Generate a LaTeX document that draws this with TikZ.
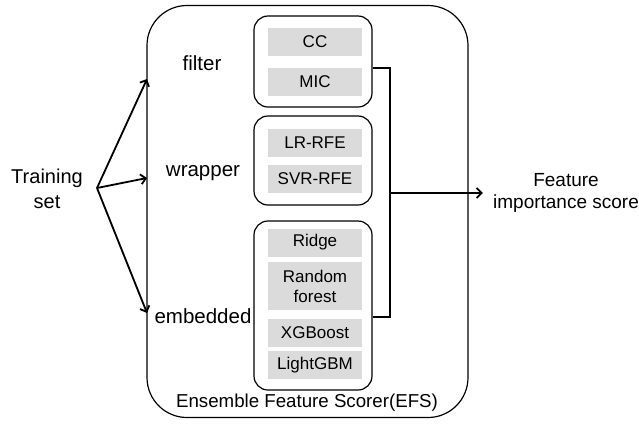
\documentclass[tikz,border=0pt]{standalone}
\usepackage{fontspec}
\setmainfont{Liberation Sans}
\usetikzlibrary{arrows.meta}
\begin{document}
\begin{tikzpicture}[x=1pt,y=-1pt,
  >={Straight Barb[length=5pt,width=10pt,line width=1.8pt]},
  outerbox/.style={draw,line width=1.2pt,rounded corners=40pt,minimum width=321pt,minimum height=412pt,inner sep=0pt},
  groupbox/.style={draw,line width=1.2pt,rounded corners=14pt,minimum width=118pt,inner sep=0pt},
  item/.style={fill=black!14,minimum width=94pt,minimum height=28pt,inner sep=0pt,font=\fontsize{17}{20}\selectfont,align=center},
  biglabel/.style={font=\fontsize{20.5}{24}\selectfont,inner sep=0pt,align=center},
  medlabel/.style={font=\fontsize{19}{22}\selectfont,inner sep=0pt,align=center},
  conn/.style={line width=1.2pt},
  arr/.style={->,line width=1.8pt}]
\useasboundingbox (0,0) rectangle (639,424);
% outer box
\node[outerbox] (efs) at (307.5,211.5) {};
\node[font=\fontsize{18.7}{22}\selectfont,inner sep=0pt] (efslabel) at (307,403) {Ensemble Feature Scorer(EFS)};
% group boxes
\node[groupbox,minimum height=91pt] (gf) at (313,61.5) {};
\node[groupbox,minimum height=89pt] (gw) at (313,160.5) {};
\node[groupbox,minimum height=169pt] (ge) at (313,305.5) {};
% items
\node[item] (cc) at (315,42) {CC};
\node[item] (mic) at (315,82) {MIC};
\node[item] (lr) at (315,143) {LR-RFE};
\node[item] (svr) at (315,178.5) {SVR-RFE};
\node[item] (ridge) at (315,242.5) {Ridge};
\node[item,minimum height=48pt] (rf) at (315,286) {Random\\forest};
\node[item] (xgb) at (315,333) {XGBoost};
\node[item] (lgbm) at (315,365) {LightGBM};
% labels
\node[biglabel] (lfilter) at (202,63) {filter};
\node[biglabel] (lwrapper) at (203,173) {wrapper};
\node[biglabel] (lembedded) at (203,316) {embedded};
\node[font=\fontsize{20}{25}\selectfont,inner sep=0pt,align=center] (ts) at (47,189) {Training\\set};
\node[medlabel] (fis) at (566,193) {Feature\\importance score};
% arrows from training set
\coordinate (ts0) at (97,188);
\coordinate (ef) at (147,79);
\coordinate (ew) at (147,178);
\coordinate (ee) at (147,313);
\draw[arr] (ts0) -- (ef);
\draw[arr] (ts0) -- (ew);
\draw[arr] (ts0) -- (ee);
% bracket
\coordinate (br) at (390,193);
\draw[conn] ([yshift=-6.5pt]gf.east) -| (br) |- ([yshift=-11.5pt]ge.east);
\draw[arr,shorten >=10pt] (br) -- (fis.west);
\end{tikzpicture}
\end{document}
